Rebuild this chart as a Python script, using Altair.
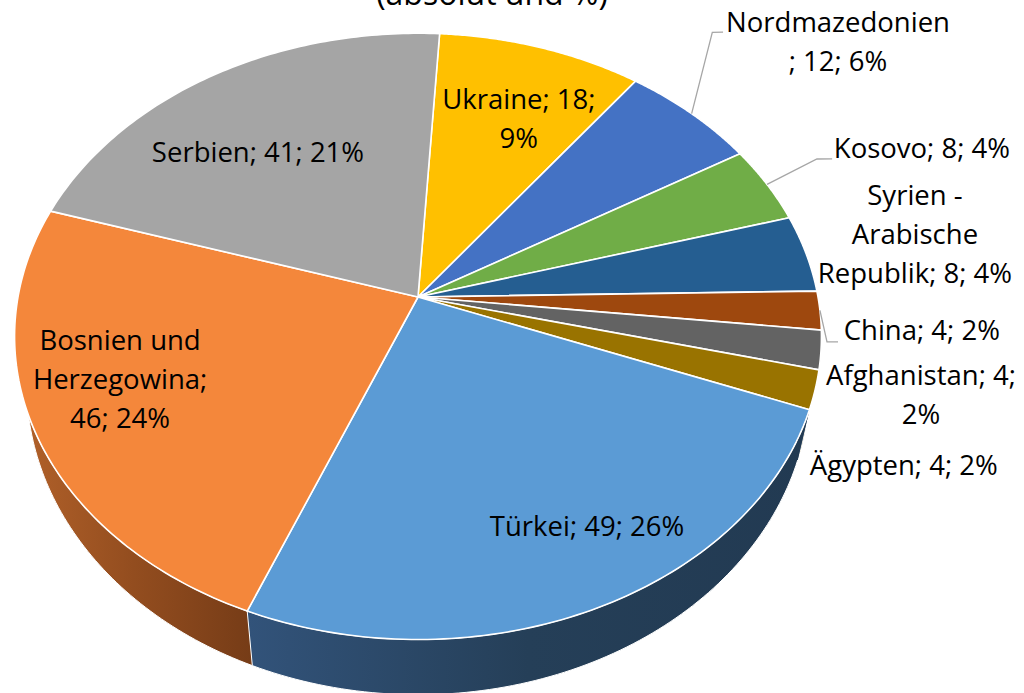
import altair as alt
import pandas as pd

# ---------------- data ----------------
categories = ["Ukraine", "Nordmazedonien", "Kosovo", "Syrien - Arabische Republik",
              "China", "Afghanistan", "Ägypten", "Türkei",
              "Bosnien und Herzegowina", "Serbien"]
counts = [18, 12, 8, 8, 4, 4, 4, 49, 46, 41]
label_texts = ["Ukraine; 18;\n9%", "Nordmazedonien\n; 12; 6%", "Kosovo; 8; 4%",
               "Syrien -\nArabische\nRepublik; 8; 4%", "China; 4; 2%",
               "Afghanistan; 4;\n2%", "Ägypten; 4; 2%", "Türkei; 49; 26%",
               "Bosnien und\nHerzegowina;\n46; 24%", "Serbien; 41; 21%"]
title_text = "(absolut und %)"

# ---------------- styles ----------------
slice_colors = ["#FFC000", "#4472C4", "#70AD47", "#255E91", "#9E480E",
                "#636363", "#997300", "#5B9BD5", "#F4873B", "#A5A5A5"]
wall_colors = ["#8F6C00", "#2A4577", "#43692B", "#183B5B", "#5F2B08",
               "#3B3B3B", "#5C4500", "#2A4868", "#8A4A1D", "#636363"]
FONT = "Open Sans"
LINE_H = 39

# ---------------- layout of the tilted (perspective) pie ----------------
CX, CY, RX, RY, K = 418, 297, 400, 298, 0.13
ROT = 3.5        # first slice angle (degrees)
DEPTH = 48       # thickness of the pie
SHIFT = 0.03     # perspective narrowing of the bottom face
N = 90           # points per arc

# label placement: radial factor and angle tweak (degrees) from slice middle
label_r = [0.696, 1.518, 1.446, 1.294, 1.246, 1.247, 1.2495, 0.802, 0.768, 0.666]
label_da = [2.9, 3.0, 2.0, -0.85, 2.7, 4.9, 7.8, -5.2, 4.6, -5.3]
# leader lines: (radial factor, angle tweak) per point
leader_r = {"Nordmazedonien": [1.0, 1.304, 1.324],
            "Kosovo": [1.0, 1.170, 1.207],
            "China": [1.0, 1.0137, 1.0404]}
leader_da = {"Nordmazedonien": [0, -8.4, -7.4],
             "Kosovo": [0, -1.5, -0.7],
             "China": [0, 5.8, 5.6]}

rows = []
for i, c in enumerate(categories):
    lr = leader_r.get(c, [])
    rows.append(dict(category=c, value=counts[i], idx=i, label=label_texts[i],
                     lr=label_r[i], lda=label_da[i],
                     lead_r=lr, lead_da=leader_da.get(c, []),
                     lead_k=list(range(len(lr)))))
df = pd.DataFrame(rows)


def proj_x(r, a):
    return f"{CX} + {RX}*({r})*sin({a})/(1 + {K}*({r})*cos({a}))"


def proj_y(r, a):
    return f"{CY} - {RY}*({r})*cos({a})/(1 + {K}*({r})*cos({a}))"


xs = alt.Scale(domain=[0, 1024], nice=False, zero=False)
ys = alt.Scale(domain=[0, 693], nice=False, zero=False, reverse=True)
X = alt.X("px:Q", scale=xs, axis=None)
Y = alt.Y("py:Q", scale=ys, axis=None)

base = (
    alt.Chart(df)
    .transform_window(cum="sum(value)", sort=[alt.SortField("idx", order="ascending")],
                      frame=[None, 0])
    .transform_joinaggregate(total="sum(value)")
    .transform_calculate(
        a0=f"{ROT}*PI/180 + 2*PI*(datum.cum - datum.value)/datum.total",
        a1=f"{ROT}*PI/180 + 2*PI*datum.cum/datum.total",
    )
)

# side walls
walls_src = (
    base.transform_calculate(pts=f"sequence(0, {2 * N + 2})")
    .transform_flatten(["pts"])
    .transform_calculate(
        bot=f"datum.pts > {N} ? 1 : 0",
        tt=f"datum.pts > {N} ? ({2 * N + 1} - datum.pts)/{N} : datum.pts/{N}",
    )
    .transform_calculate(aa="datum.a0 + (datum.a1 - datum.a0)*datum.tt")
    .transform_calculate(
        ww=f"1 + {K}*cos(datum.aa)",
        tx=proj_x("1", "datum.aa"),
        ty=proj_y("1", "datum.aa"),
    )
    .transform_calculate(
        px=f"datum.tx + datum.bot*({CX} - datum.tx)*{SHIFT}",
        py=f"datum.ty + datum.bot*{DEPTH}/datum.ww",
    )
)

walls = walls_src.mark_line(filled=True, stroke="white", strokeWidth=1).encode(
    x=X, y=Y,
    color=alt.Color("category:N", scale=alt.Scale(domain=categories, range=wall_colors),
                    legend=None),
    detail="category:N",
    order=alt.Order("pts:Q"),
)

grad_bos = alt.LinearGradient(
    gradient="linear",
    stops=[alt.GradientStop(color="#B3622A", offset=0),
           alt.GradientStop(color="#934D1F", offset=0.5),
           alt.GradientStop(color="#763C17", offset=1)],
    x1=0, x2=1, y1=0, y2=0)
grad_tur = alt.LinearGradient(
    gradient="linear",
    stops=[alt.GradientStop(color="#32537A", offset=0),
           alt.GradientStop(color="#253F58", offset=0.5),
           alt.GradientStop(color="#223A52", offset=1)],
    x1=0, x2=1, y1=0, y2=0)

wall_bos = walls_src.transform_filter(alt.datum.category == "Bosnien und Herzegowina").mark_line(
    filled=True, fill=grad_bos, stroke="white", strokeWidth=1).encode(
    x=X, y=Y, detail="category:N", order=alt.Order("pts:Q"))
wall_tur = walls_src.transform_filter(alt.datum.category == "Türkei").mark_line(
    filled=True, fill=grad_tur, stroke="white", strokeWidth=1).encode(
    x=X, y=Y, detail="category:N", order=alt.Order("pts:Q"))

# top faces
tops = (
    base.transform_calculate(pts=f"sequence(0, {N + 3})")
    .transform_flatten(["pts"])
    .transform_calculate(
        rr=f"(datum.pts == 0 || datum.pts == {N + 2}) ? 0 : 1",
        aa=f"datum.a0 + (datum.a1 - datum.a0)*clamp(datum.pts - 1, 0, {N})/{N}",
    )
    .transform_calculate(px=proj_x("datum.rr", "datum.aa"), py=proj_y("datum.rr", "datum.aa"))
    .mark_line(filled=True, stroke="white", strokeWidth=1.6, strokeJoin="round")
    .encode(
        x=X, y=Y,
        color=alt.Color("category:N", scale=alt.Scale(domain=categories, range=slice_colors),
                        legend=None),
        detail="category:N",
        order=alt.Order("pts:Q"),
    )
)

# leader lines
leaders = (
    base.transform_flatten(["lead_r", "lead_da", "lead_k"])
    .transform_calculate(am="(datum.a0 + datum.a1)/2 + datum.lead_da*PI/180")
    .transform_calculate(px=proj_x("datum.lead_r", "datum.am"),
                         py=proj_y("datum.lead_r", "datum.am"))
    .mark_line(stroke="#A6A6A6", strokeWidth=1.3)
    .encode(x=X, y=Y, detail="category:N", order=alt.Order("lead_k:Q"))
)

# labels (multi-line blocks centred on their anchor)
labels = (
    base.transform_calculate(
        am="(datum.a0 + datum.a1)/2 + datum.lda*PI/180",
        nl=r"length(split(datum.label, '\n'))",
    )
    .transform_calculate(
        px=proj_x("datum.lr", "datum.am"),
        py=proj_y("datum.lr", "datum.am") + f" - (datum.nl - 1)*{LINE_H}/2",
    )
    .mark_text(font=FONT, fontSize=27.5, lineBreak="\n", lineHeight=LINE_H,
               align="center", baseline="middle", color="#000000")
    .encode(x=X, y=Y, text="label:N")
)

chart = (
    alt.layer(walls, wall_bos, wall_tur, tops, leaders, labels)
    .resolve_scale(color="independent")
    .properties(
        width=1024, height=693, padding=0,
        autosize=alt.AutoSizeParams(type="none"),
        title=alt.TitleParams(title_text, font=FONT, fontSize=32, fontWeight="normal",
                              color="#000000", anchor="middle", offset=-12, dx=-20),
    )
    .configure_view(stroke=None)
)

chart.save("out.html", embed_options={"renderer": "svg", "actions": False})
